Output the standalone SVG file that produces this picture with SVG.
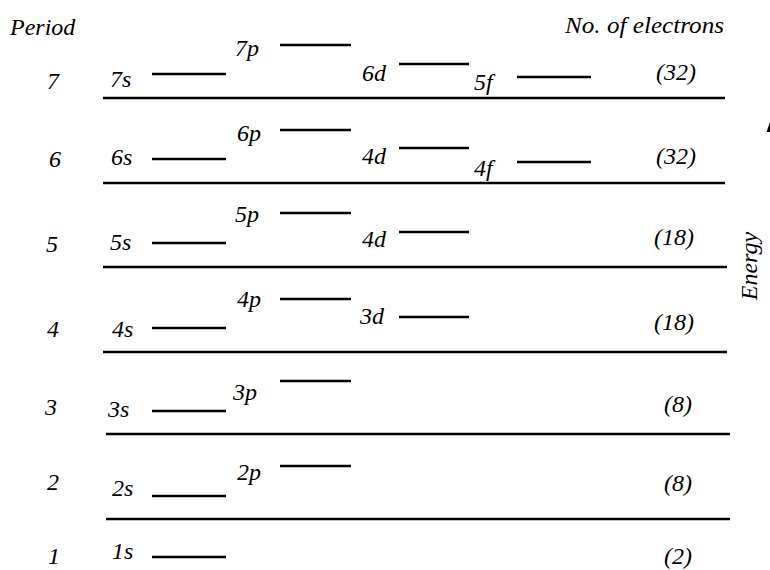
<svg xmlns="http://www.w3.org/2000/svg" width="770" height="570" viewBox="0 0 770 570">
<style>
text{font-family:"Liberation Serif","DejaVu Serif",serif;font-style:italic;font-size:24px;fill:#000}
.num{text-anchor:middle}
.cnt{text-anchor:middle}
.lvl{stroke:#000;stroke-width:2.6;fill:none}
.sep{stroke:#000;stroke-width:2.6;fill:none}
</style>
<rect width="770" height="570" fill="#fff"/>
<g id="headers">
<text x="10" y="35">Period</text>
<text x="565" y="33" textLength="159" lengthAdjust="spacingAndGlyphs">No. of electrons</text>
<text transform="translate(757,266) rotate(-90)" text-anchor="middle">Energy</text>
<polygon points="770,122 766.5,132 770,132" fill="#000"/>
</g>
<g id="separators">
<line class="sep" x1="103" y1="98" x2="725" y2="98"/>
<line class="sep" x1="103" y1="183" x2="725" y2="183"/>
<line class="sep" x1="103" y1="267" x2="727" y2="267"/>
<line class="sep" x1="103" y1="352" x2="727" y2="352"/>
<line class="sep" x1="106" y1="434" x2="730" y2="434"/>
<line class="sep" x1="106" y1="519" x2="730" y2="519"/>
</g>
<g id="period7">
<text class="num" x="53" y="89">7</text>
<text x="110" y="87">7s</text><line class="lvl" x1="152" y1="74" x2="226" y2="74"/>
<text x="235" y="56">7p</text><line class="lvl" x1="280" y1="45" x2="351" y2="45"/>
<text x="362" y="81">6d</text><line class="lvl" x1="399" y1="64" x2="469" y2="64"/>
<text x="474" y="90">5f</text><line class="lvl" x1="517" y1="77" x2="591" y2="77"/>
<text class="cnt" x="676" y="80">(32)</text>
</g>
<g id="period6">
<text class="num" x="55" y="167">6</text>
<text x="111" y="165">6s</text><line class="lvl" x1="152" y1="159" x2="226" y2="159"/>
<text x="237" y="141">6p</text><line class="lvl" x1="280" y1="130" x2="351" y2="130"/>
<text x="362" y="164">4d</text><line class="lvl" x1="399" y1="148" x2="469" y2="148"/>
<text x="474" y="176">4f</text><line class="lvl" x1="517" y1="162" x2="591" y2="162"/>
<text class="cnt" x="676" y="164">(32)</text>
</g>
<g id="period5">
<text class="num" x="52" y="252">5</text>
<text x="110" y="250">5s</text><line class="lvl" x1="152" y1="243" x2="226" y2="243"/>
<text x="235" y="222">5p</text><line class="lvl" x1="280" y1="213" x2="351" y2="213"/>
<text x="362" y="247">4d</text><line class="lvl" x1="399" y1="232" x2="469" y2="232"/>
<text class="cnt" x="674" y="245">(18)</text>
</g>
<g id="period4">
<text class="num" x="53" y="337">4</text>
<text x="112" y="337">4s</text><line class="lvl" x1="152" y1="328" x2="226" y2="328"/>
<text x="237" y="307">4p</text><line class="lvl" x1="280" y1="299" x2="351" y2="299"/>
<text x="360" y="324">3d</text><line class="lvl" x1="399" y1="317" x2="469" y2="317"/>
<text class="cnt" x="674" y="330">(18)</text>
</g>
<g id="period3">
<text class="num" x="51" y="415">3</text>
<text x="108" y="417">3s</text><line class="lvl" x1="152" y1="411" x2="226" y2="411"/>
<text x="233" y="400">3p</text><line class="lvl" x1="280" y1="381" x2="351" y2="381"/>
<text class="cnt" x="678" y="412">(8)</text>
</g>
<g id="period2">
<text class="num" x="53" y="490">2</text>
<text x="112" y="496">2s</text><line class="lvl" x1="152" y1="496" x2="226" y2="496"/>
<text x="237" y="480">2p</text><line class="lvl" x1="280" y1="466" x2="351" y2="466"/>
<text class="cnt" x="678" y="491">(8)</text>
</g>
<g id="period1">
<text class="num" x="54" y="564">1</text>
<text x="112" y="559">1s</text><line class="lvl" x1="152" y1="557" x2="226" y2="557"/>
<text class="cnt" x="678" y="564">(2)</text>
</g>
</svg>
